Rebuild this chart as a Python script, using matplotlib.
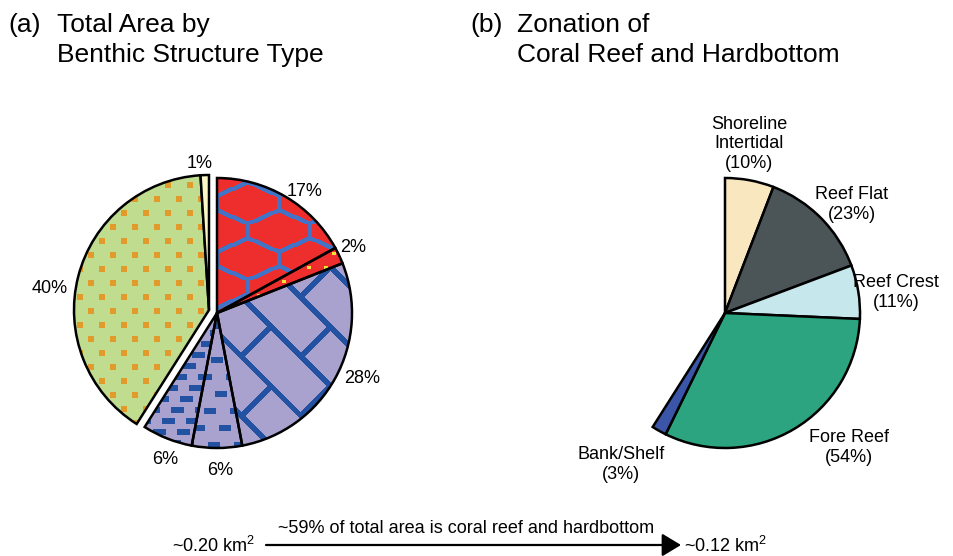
import numpy as np
import matplotlib.pyplot as plt
from matplotlib.colors import to_rgb

plt.rcParams['font.family'] = ['Liberation Sans', 'DejaVu Sans']
plt.rcParams['mathtext.fontset'] = 'custom'
plt.rcParams['mathtext.rm'] = 'Liberation Sans'

W, H = 954, 556

# (a) share of total area by benthic structure type, clockwise from the top
structure_pct = [17, 2, 28, 6, 6, 40, 1]
structure_labels = ['17%', '2%', '28%', '6%', '6%', '40%', '1%']

# (b) zonation of coral reef and hardbottom, clockwise from the top
zone_names = ['Shoreline\nIntertidal', 'Reef Flat', 'Reef Crest', 'Fore Reef', 'Bank/Shelf']
zone_pct = [10, 23, 11, 54, 3]

reef_share = 0.59          # part of the total area that is coral reef and hardbottom
total_area = r'~0.20 km$^\mathrm{2}$'
reef_area = r'~0.12 km$^\mathrm{2}$'

# colours
structure_colors = ['#EE2D2D', '#EE2D2D', '#A9A2CF', '#A9A2CF', '#A9A2CF', '#C0DC8E', '#FBF6C6']
zone_colors = ['#F9E7C0', '#4B5457', '#C6E7EB', '#2BA47F', '#3B55A8']

# layout, in pixels (the axes covers the whole figure)
radius = 135
center_a = (217, H - 313)
center_b = (725, H - 313)
pulled_out = (-8, 3)       # green and pale yellow slices are pulled out together
structure_label_pos = [(305, 196), (353, 252), (362, 383), (220, 475), (165, 464), (50, 293), (200, 168)]
# baseline of the last line of each zone label
zone_label_pos = [(749, 168), (852, 219), (896, 307), (849, 462), (621, 479)]


def seg_dist(u, v, a, b):
    dx, dy = b[0] - a[0], b[1] - a[1]
    t = np.clip(((u - a[0]) * dx + (v - a[1]) * dy) / (dx * dx + dy * dy), 0, 1)
    return np.hypot(u - a[0] - t * dx, v - a[1] - t * dy)


def chain(X, Y):
    u, v = X % 62, Y % 56
    segs = [((0, 0), (0, 14)), ((62, 0), (62, 14)), ((0, 14), (31, 28)), ((62, 14), (31, 28)),
            ((31, 28), (31, 42)), ((31, 42), (0, 56)), ((31, 42), (62, 56))]
    d = np.min([seg_dist(u, v, a, b) for a, b in segs], axis=0)
    return d < 2.2


def bricks(X, Y, gap=42, length=84, lw=5.5):
    p = (X - Y) / np.sqrt(2)
    q = (X + Y) / np.sqrt(2)
    k = np.floor(p / gap)
    main = (p % gap) < lw
    joint = ((q + (length / 2) * (k % 2)) % length) < lw
    return main | joint


def dashes(X, Y, dx, dy, w, h, shift):
    row = np.floor(Y / dy)
    return (((X + shift * row) % dx) < w) & ((Y % dy) < h)


def texture(bg, fg, mask):
    img = np.empty(mask.shape + (3,))
    img[:] = to_rgb(bg)
    img[mask] = to_rgb(fg)
    return img


fig = plt.figure(figsize=(W / 100, H / 100), dpi=100)
ax = fig.add_axes([0, 0, 1, 1])

# ---- (a) total area by benthic structure type
wedges_a, _ = ax.pie(structure_pct, colors=structure_colors, startangle=90, counterclock=False,
                     radius=radius, center=center_a,
                     wedgeprops=dict(edgecolor='black', linewidth=1.8))
for w in wedges_a[5:]:
    w.set_center((center_a[0] + pulled_out[0], center_a[1] + pulled_out[1]))

# pixel grid for the fill patterns (screen y runs downwards)
x0, x1 = center_a[0] - radius - 20, center_a[0] + radius + 20
ytop, ybot = center_a[1] + radius + 20, center_a[1] - radius - 20
X, Y = np.meshgrid(np.arange(x0, x1) + 0.5, H - (np.arange(ytop, ybot, -1) - 0.5))

fills = {
    0: texture('#EE2D2D', '#4472C4', chain(X, Y)),
    1: texture('#EE2D2D', '#F2E23A', dashes(X, Y, 17, 14, 4, 3, 8)),
    2: texture('#A9A2CF', '#2352A2', bricks(X, Y)),
    3: texture('#A9A2CF', '#2352A2', dashes(X, Y, 26, 17, 12, 6, 11)),
    4: texture('#A9A2CF', '#2352A2', dashes(X, Y, 24, 11, 13, 6, 9)),
    5: texture('#C0DC8E', '#E29B2A', dashes(X, Y, 22, 14, 6, 6, 11)),
}
for i, img in fills.items():
    im = ax.imshow(img, extent=(x0, x1, ybot, ytop), origin='upper',
                   interpolation='nearest', aspect='auto', zorder=0.5)
    im.set_clip_path(wedges_a[i])
    wedges_a[i].set_facecolor('none')

for lab, (x, y) in zip(structure_labels, structure_label_pos):
    ax.text(x, H - y, lab, ha='center', va='baseline', fontsize=13)

# ---- (b) zonation, drawn as the 59% share of a full circle
zone_frac = np.array(zone_pct) / sum(zone_pct) * reef_share
wedges_b, _ = ax.pie(zone_frac, normalize=False, colors=zone_colors, startangle=90,
                     counterclock=False, radius=radius, center=center_b,
                     wedgeprops=dict(edgecolor='black', linewidth=1.8))
for name, pct, (x, y) in zip(zone_names, zone_pct, zone_label_pos):
    ax.text(x, H - y, f'{name}\n({pct}%)', ha='center', va='baseline', fontsize=13,
            linespacing=1.2)

# ---- panel titles
for tag, lines, xt, xl in [('(a)', ['Total Area by', 'Benthic Structure Type'], 8, 57),
                           ('(b)', ['Zonation of', 'Coral Reef and Hardbottom'], 470, 517)]:
    ax.text(xt, H - 32, tag, fontsize=19, va='baseline')
    ax.text(xl, H - 32, lines[0], fontsize=19, va='baseline')
    ax.text(xl, H - 62, lines[1], fontsize=19, va='baseline')

# ---- area arrow at the bottom
ax.annotate('', xy=(681, H - 545), xytext=(266, H - 545),
            arrowprops=dict(arrowstyle='-|>,head_length=0.58,head_width=0.35', lw=1.6,
                            color='black', shrinkA=0, shrinkB=0, mutation_scale=20))
ax.text(172, H - 552, total_area, fontsize=13, va='baseline', ha='left')
ax.text(684, H - 552, reef_area, fontsize=13, va='baseline', ha='left')
ax.text(466, H - 533, f'~{round(reef_share * 100)}% of total area is coral reef and hardbottom',
        fontsize=13, va='baseline', ha='center')

ax.set_xlim(0, W)
ax.set_ylim(0, H)
ax.set_aspect('auto')
ax.axis('off')

fig.savefig('out.png', dpi=100)
